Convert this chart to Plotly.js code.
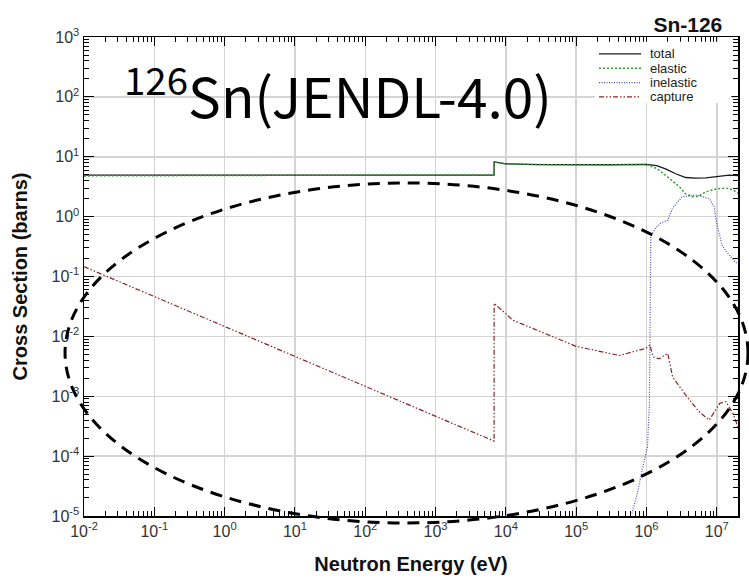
<!DOCTYPE html>
<html>
<head>
<meta charset="utf-8">
<script src="https://cdn.plot.ly/plotly-3.0.1.min.js"></script>
<style>html,body{margin:0;padding:0;background:#fff;}#chart{width:749px;height:580px;}</style>
</head>
<body>
<div id="chart"></div>
<script>
// ---- data (energies in eV, cross sections in barns) ----
const totalE   = [1e-2, 1e0, 1e2, 6.8e3, 6.8e3, 8e3, 1e4, 3e4, 1e5, 3e5, 1e6, 1.4e6, 1.9e6, 2.6e6, 3.6e6, 5e6, 7e6, 1e7, 1.5e7, 2e7];
const totalXS  = [4.94, 4.94, 4.94, 4.94, 8.2, 8.0, 7.6, 7.4, 7.3, 7.35, 7.45, 7.1, 6.2, 5.2, 4.5, 4.4, 4.45, 4.7, 4.95, 4.85];

const elasticE  = [1e-2, 1e0, 1e2, 6.8e3, 6.8e3, 8e3, 1e4, 3e4, 1e5, 3e5, 1e6, 1.3e6, 1.5e6, 2e6, 2.9e6, 3.6e6, 4.5e6, 5.5e6, 7e6, 1e7, 1.35e7, 1.7e7, 2e7];
const elasticXS = [4.79, 4.92, 4.94, 4.94, 8.16, 7.98, 7.58, 7.39, 7.29, 7.34, 7.4, 6.6, 6.0, 4.5, 3.2, 2.4, 2.15, 2.2, 2.6, 2.9, 3.0, 2.8, 2.45];

const inelasticE  = [6.2e5, 7.4e5, 9.1e5, 1.03e6, 1.1e6, 1.12e6, 1.13e6, 1.15e6, 1.35e6, 1.6e6, 2.0e6, 2.35e6, 3.2e6, 5e6, 7.8e6, 9.1e6, 1.02e7, 1.2e7, 1.7e7, 2e7];
const inelasticXS = [1.1e-5, 2.4e-5, 7.6e-5, 1.4e-4, 7.6e-4, 0.01, 0.1, 0.47, 0.65, 0.78, 0.87, 1.4, 2.14, 2.3, 2.0, 1.5, 0.68, 0.32, 0.19, 0.16];

const captureE  = [1e-2, 1e0, 6.8e3, 6.8e3, 1.26e4, 1e5, 4.1e5, 9.8e5, 1.12e6, 1.23e6, 1.5e6, 2e6, 2.35e6, 3.6e6, 5.6e6, 7.8e6, 1.1e7, 1.35e7, 1.7e7, 2e7];
const captureXS = [0.146, 0.0146, 1.78e-4, 0.0356, 0.0186, 6.8e-3, 4.8e-3, 6.3e-3, 7.2e-3, 4.6e-3, 4.2e-3, 5.2e-3, 2.1e-3, 1.05e-3, 5.5e-4, 4.0e-4, 7.6e-4, 8.1e-4, 5.1e-4, 3.1e-4];

const seriesNames = ['total', 'elastic', 'inelastic', 'capture'];

const xTickVals  = [1e-2, 1e-1, 1e0, 1e1, 1e2, 1e3, 1e4, 1e5, 1e6, 1e7];
const xTickText  = ['10<sup>-2</sup>', '10<sup>-1</sup>', '10<sup>0</sup>', '10<sup>1</sup>', '10<sup>2</sup>', '10<sup>3</sup>', '10<sup>4</sup>', '10<sup>5</sup>', '10<sup>6</sup>', '10<sup>7</sup>'];
const yTickVals  = [1e-5, 1e-4, 1e-3, 1e-2, 1e-1, 1e0, 1e1, 1e2, 1e3];
const yTickText  = ['10<sup>-5</sup>', '10<sup>-4</sup>', '10<sup>-3</sup>', '10<sup>-2</sup>', '10<sup>-1</sup>', '10<sup>0</sup>', '10<sup>1</sup>', '10<sup>2</sup>', '10<sup>3</sup>'];

const chartTitle = 'Sn-126';
const bigLabel   = '<sup>126</sup>Sn(JENDL-4.0)';
const xTitle     = 'Neutron Energy (eV)';
const yTitle     = 'Cross Section (barns)';

// line styles per series
const lineStyles = [
  {color: '#1a1a1a', width: 1.3},
  {color: '#2f9a2f', width: 1.5, dash: '2px,2px'},
  {color: '#4a4ab0', width: 1.2, dash: '1px,1.5px'},
  {color: '#8b2222', width: 1.2, dash: '5px,2px,1.5px,2px,1.5px,2px'}
];

// minor tick values (2..9 within each decade)
function minorTicks(lo, hi) {
  const out = [];
  for (let p = lo; p <= hi; p++) {
    for (let m = 2; m <= 9; m++) out.push(m * Math.pow(10, p));
  }
  return out;
}

const xs = [totalE, elasticE, inelasticE, captureE];
const ys = [totalXS, elasticXS, inelasticXS, captureXS];
const traces = seriesNames.map((n, i) => ({
  x: xs[i], y: ys[i], name: n, mode: 'lines', line: lineStyles[i], showlegend: false
}));

const FONT = 'Liberation Sans, Arial, sans-serif';
const tickFont = {family: FONT, size: 16, color: '#333'};

// hand-built legend (compact rows like the reference)
const legTop = 0.9646, legStep = 0.0299;
const legendShapes = [
  {type: 'rect', xref: 'paper', yref: 'paper', x0: 0.781, x1: 0.99, y0: 0.862, y1: 0.99,
   fillcolor: '#fff', line: {width: 0}, layer: 'above'}
];
const legendNotes = [];
seriesNames.forEach((n, i) => {
  const yy = legTop - i * legStep;
  legendShapes.push({type: 'line', xref: 'paper', yref: 'paper', x0: 0.7875, x1: 0.8517, y0: yy, y1: yy,
    line: Object.assign({}, lineStyles[i]), layer: 'above'});
  legendNotes.push({text: n, xref: 'paper', yref: 'paper', x: 0.862, y: yy, xanchor: 'left', yanchor: 'middle',
    showarrow: false, font: {family: FONT, size: 13, color: '#222'}});
});

const layout = {
  width: 749, height: 580,
  margin: {l: 84, r: 11, t: 37, b: 64},
  paper_bgcolor: '#fff', plot_bgcolor: '#fff',
  showlegend: false,
  title: {
    text: chartTitle,
    font: {family: FONT, size: 21, color: '#111', weight: 'bold'},
    xref: 'paper', x: 0.976, xanchor: 'right',
    yref: 'container', y: 0.958, yanchor: 'middle'
  },
  xaxis: {
    type: 'log', range: [-2, Math.log10(2e7)],
    tickmode: 'array', tickvals: xTickVals, ticktext: xTickText,
    tickfont: tickFont,
    ticks: 'inside', ticklen: 9, tickwidth: 1, tickcolor: '#000',
    minor: {tickvals: minorTicks(-2, 7), ticks: 'inside', ticklen: 5, tickwidth: 1, tickcolor: '#000', showgrid: false},
    showline: true, linecolor: '#000', linewidth: 1.5, mirror: 'ticks',
    showgrid: true, gridcolor: '#d4d4d4', gridwidth: 1.5, zeroline: false,
    title: {text: xTitle, font: {family: FONT, size: 20, color: '#111', weight: 'bold'}, standoff: 18}
  },
  yaxis: {
    type: 'log', range: [-5, 3],
    tickmode: 'array', tickvals: yTickVals, ticktext: yTickText,
    tickfont: tickFont,
    ticks: 'inside', ticklen: 10, tickwidth: 1, tickcolor: '#000',
    minor: {tickvals: minorTicks(-5, 2), ticks: 'inside', ticklen: 5, tickwidth: 1, tickcolor: '#000', showgrid: false},
    showline: true, linecolor: '#000', linewidth: 1.5, mirror: 'ticks',
    showgrid: true, gridcolor: '#d4d4d4', gridwidth: 1.5, zeroline: false,
    title: {text: yTitle, font: {family: FONT, size: 20, color: '#111', weight: 'bold'}, standoff: 18}
  },
  annotations: [
    {text: bigLabel, xref: 'paper', yref: 'paper', x: 0.058, y: 0.886,
     xanchor: 'left', yanchor: 'middle', showarrow: false,
     font: {family: 'Noto Sans CJK JP, Noto Sans, sans-serif', size: 55, color: '#000'}}
  ].concat(legendNotes),
  shapes: legendShapes.concat([
    {type: 'circle', xref: 'paper', yref: 'paper',
     x0: -0.029, x1: 1.0153, y0: -0.0146, y1: 0.6952,
     line: {color: '#000', width: 3, dash: '12px,8px'}, layer: 'above'}
  ])
};

Plotly.newPlot('chart', traces, layout, {displayModeBar: false, staticPlot: true});
</script>
</body>
</html>
